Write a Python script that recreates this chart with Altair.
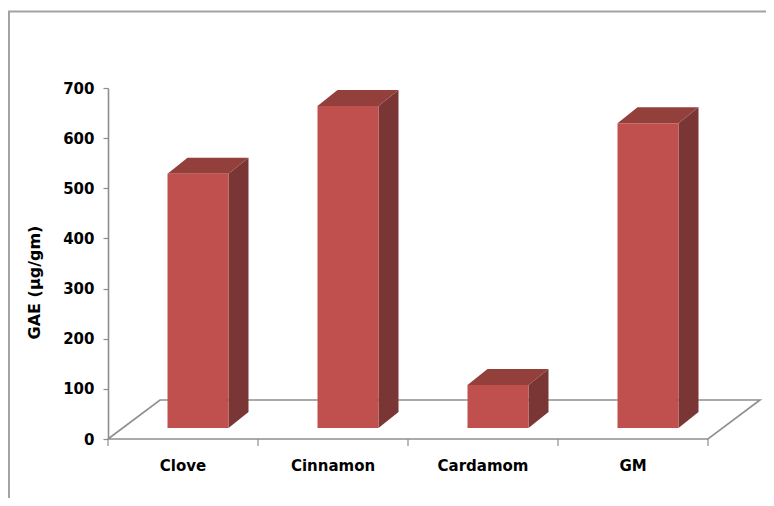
import altair as alt
import pandas as pd

# ---- data ----
categories = ["Clove", "Cinnamon", "Cardamom", "GM"]
values = [507, 642, 86, 608]
y_ticks = [0, 100, 200, 300, 400, 500, 600, 700]
y_title = "GAE (µg/gm)"

# ---- geometry / style constants (pixels) ----
W, H = 600, 351
Y_MAX = 700
PX_X = W / len(categories)          # px per x unit
PX_Y = H / Y_MAX                    # px per y unit
FLOOR_DX, FLOOR_DY = 52 / PX_X, 39 / PX_Y      # floor depth
BAR_SX, BAR_SY = 15 / PX_X, 11 / PX_Y          # bar placement inside depth
BAR_HW = 30.5 / PX_X                           # half width of front face
BAR_DX, BAR_DY = 20 / PX_X, 16 / PX_Y          # bar depth

FRONT = "#C0504D"
TOP = "#93403D"
SIDE = "#7A3634"
GREY = "#8E8E8E"
FONT = "DejaVu Sans"

n = len(categories)

front_rows, side_rows, top_rows = [], [], []
for i, (c, v) in enumerate(zip(categories, values)):
    xl = i + 0.5 + BAR_SX - BAR_HW
    xr = i + 0.5 + BAR_SX + BAR_HW
    y0 = BAR_SY
    y1 = BAR_SY + v
    front_rows.append(dict(cat=c, xl=xl, xr=xr, y0=y0, y1=y1))
    side_rows.append(dict(cat=c, x=xr, lo=y0, hi=y1))
    side_rows.append(dict(cat=c, x=xr + BAR_DX, lo=y0 + BAR_DY, hi=y1 + BAR_DY))
    top_rows.append(dict(cat=c, y=y1, xa=xl, xb=xr))
    top_rows.append(dict(cat=c, y=y1 + BAR_DY, xa=xl + BAR_DX, xb=xr + BAR_DX))

front_df = pd.DataFrame(front_rows)
side_df = pd.DataFrame(side_rows)
top_df = pd.DataFrame(top_rows)

floor_df = pd.DataFrame({
    "x": [0, n, n + FLOOR_DX, FLOOR_DX, 0],
    "y": [0, 0, FLOOR_DY, FLOOR_DY, 0],
    "o": [0, 1, 2, 3, 4],
})
ticks_df = pd.DataFrame({"x": list(range(n + 1))})
labels_df = pd.DataFrame({"x": [i + 0.5 for i in range(n)], "cat": categories})

xs = alt.Scale(domain=[0, n], nice=False, zero=False)
ys = alt.Scale(domain=[0, Y_MAX], nice=False)

y_axis = alt.Axis(values=y_ticks, title=y_title, grid=False,
                  tickSize=5, tickColor=GREY, domainColor=GREY,
                  domainWidth=1.6, tickWidth=1.2,
                  labelFont=FONT, labelFontSize=15, labelFontWeight="bold",
                  labelColor="black", labelPadding=9,
                  titleFont=FONT, titleFontSize=16, titleFontWeight="bold",
                  titleColor="black", titlePadding=20, titleY=194)

# frame around the whole chart area
frame = alt.Chart(pd.DataFrame({"a": [0]})).mark_rect(
    fill="transparent", stroke="#A3A3A3", strokeWidth=2
).encode(
    x=alt.value(-99), x2=alt.value(W + 200),
    y=alt.value(-76.5), y2=alt.value(H + 200),
)

floor = alt.Chart(floor_df).mark_line(color=GREY, strokeWidth=1.6).encode(
    x=alt.X("x:Q", scale=xs, axis=None),
    y=alt.Y("y:Q", scale=ys, axis=y_axis),
    order="o:O",
)

xticks = alt.Chart(ticks_df).mark_rule(color=GREY, strokeWidth=1.2).encode(
    x=alt.X("x:Q", scale=xs, axis=None), y=alt.value(H), y2=alt.value(H + 7)
)

side = alt.Chart(side_df).mark_area(color=SIDE, interpolate="linear").encode(
    x=alt.X("x:Q", scale=xs, axis=None),
    y=alt.Y("lo:Q", scale=ys, stack=None, axis=y_axis),
    y2="hi:Q",
    detail="cat:N",
)

top = alt.Chart(top_df).mark_area(color=TOP, orient="horizontal", interpolate="linear").encode(
    y=alt.Y("y:Q", scale=ys, axis=y_axis),
    x=alt.X("xa:Q", scale=xs, stack=None, axis=None),
    x2="xb:Q",
    detail="cat:N",
)

front = alt.Chart(front_df).mark_rect(color=FRONT).encode(
    x=alt.X("xl:Q", scale=xs, axis=None), x2="xr:Q",
    y=alt.Y("y0:Q", scale=ys, axis=y_axis), y2="y1:Q",
)

xlabels = alt.Chart(labels_df).mark_text(
    font=FONT, fontSize=15, fontWeight="bold", color="black", baseline="middle"
).encode(
    x=alt.X("x:Q", scale=xs, axis=None), y=alt.value(H + 27), text="cat:N"
)

chart = alt.layer(frame, floor, xticks, side, top, front, xlabels).properties(
    width=W, height=H,
    padding={"left": 100, "top": 80, "right": 58, "bottom": 59},
    autosize="none",
    background="white",
).configure_view(stroke="transparent", strokeWidth=0)

chart.save("out.html", embed_options={"renderer": "svg", "actions": False})
